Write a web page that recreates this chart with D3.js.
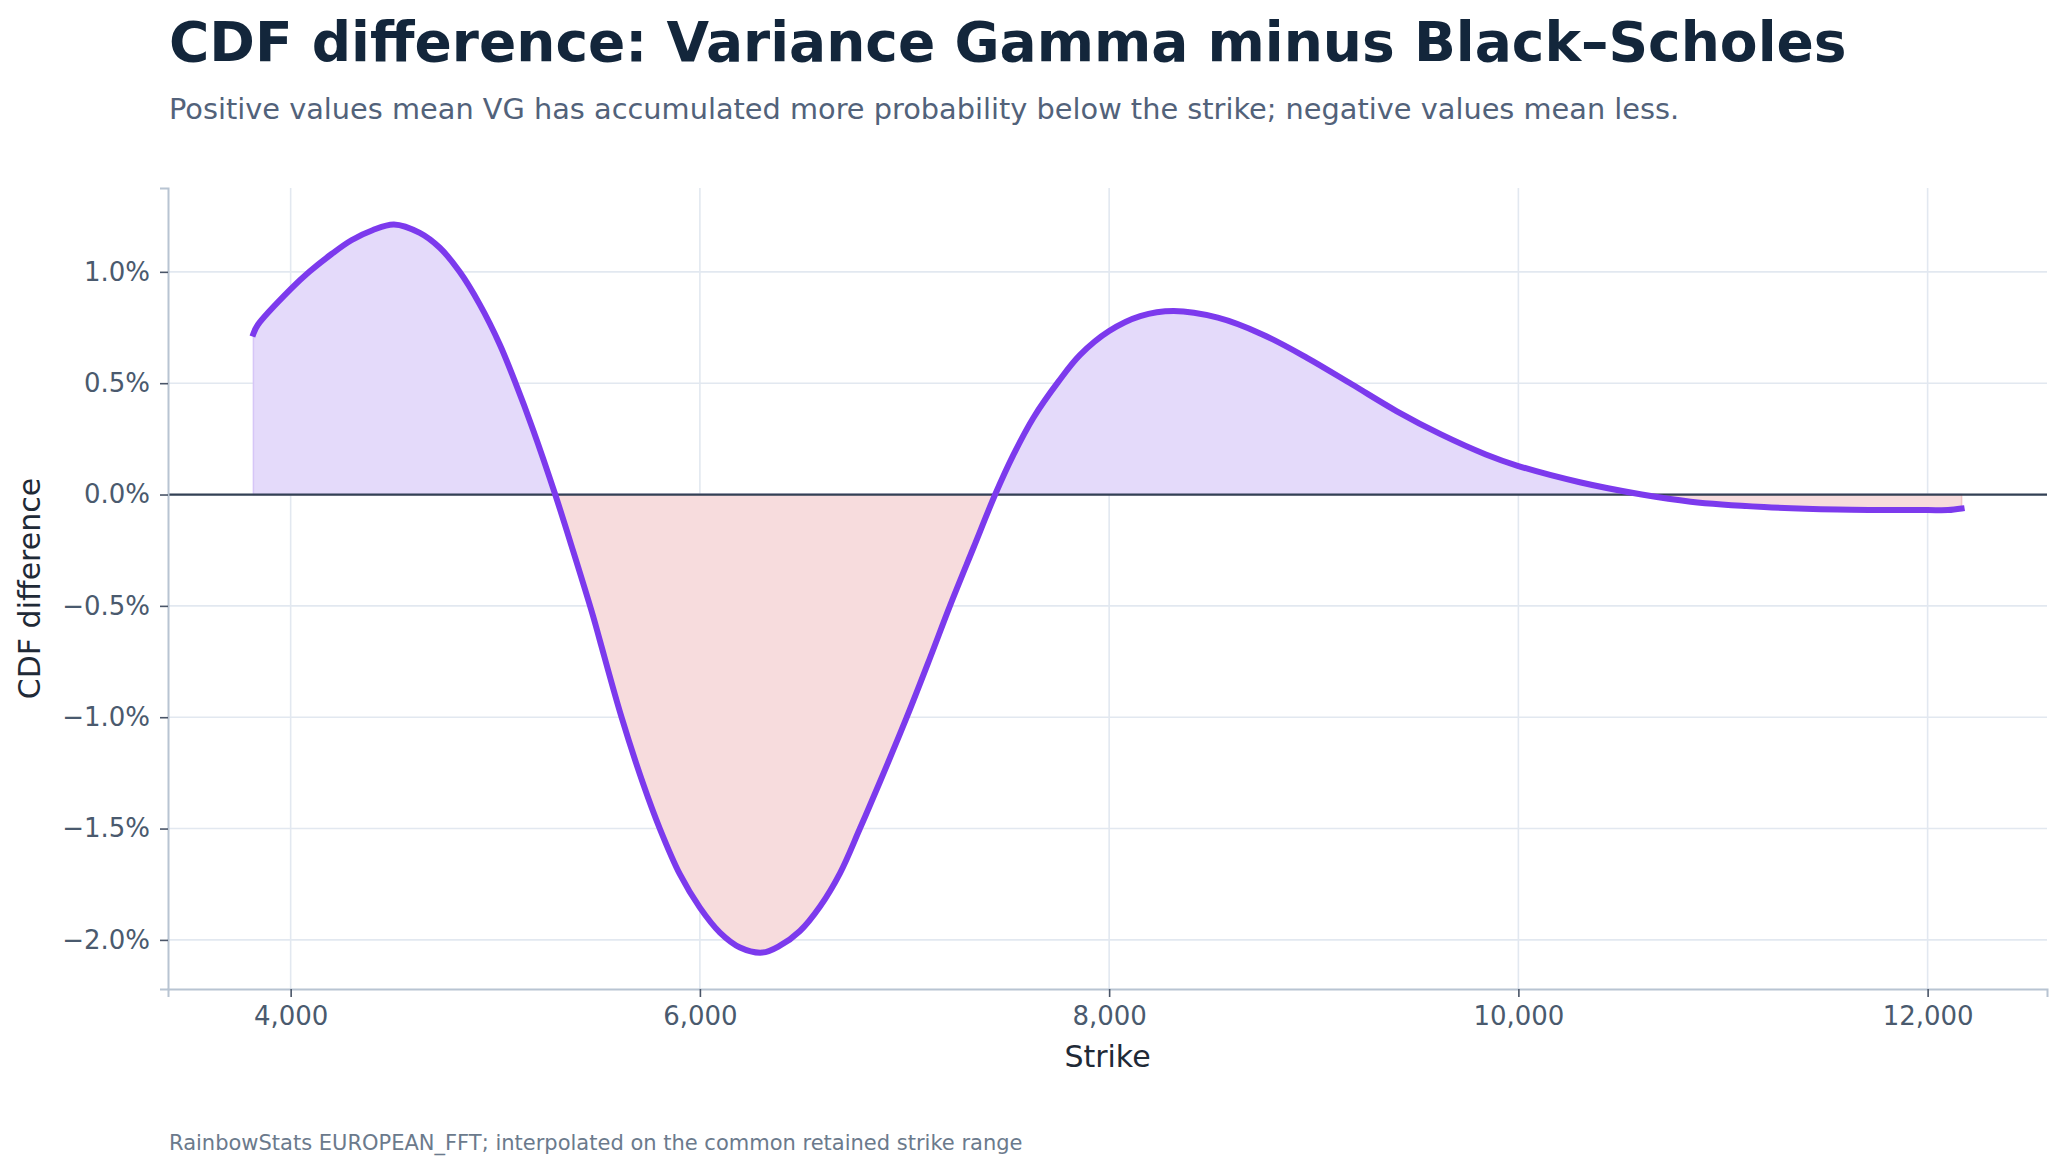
<!DOCTYPE html>
<html>
<head>
<meta charset="utf-8">
<script src="https://cdn.jsdelivr.net/npm/d3@7"></script>
<style>
  body { margin: 0; background: #fff; }
  text { font-family: "DejaVu Sans", sans-serif; }
</style>
</head>
<body>
<svg id="chart" width="2064" height="1173"></svg>
<script>
// strike grid and VG - BS cdf difference, in percent
var strikes = [3818, 3839, 4000, 4091, 4200, 4297, 4400, 4505, 4631, 4729, 4826, 4924, 5022,
  5095, 5185, 5293, 5380, 5478, 5511, 5617, 5723, 5804, 5902, 6000, 6098, 6196, 6305,
  6391, 6489, 6587, 6685, 6782, 6880, 7011, 7125, 7222, 7337, 7443, 7532, 7630, 7753, 7858,
  8000, 8152, 8315, 8531, 8749, 8967, 9186, 9404, 9622, 9841, 10000, 10300, 10603,
  10842, 11200, 11558, 12000, 12100, 12166];
var cdfDiff = [0.722, 0.761, 0.922, 1.0, 1.08, 1.142, 1.187, 1.213, 1.175, 1.108, 1.0, 0.854, 0.674,
  0.51, 0.29, 0.0, -0.252, -0.546, -0.655, -1.0, -1.30, -1.5, -1.705, -1.855, -1.967, -2.034, -2.057,
  -2.026, -1.96, -1.85, -1.70, -1.5, -1.29, -1.0, -0.733, -0.5, -0.239, 0.0, 0.178, 0.345, 0.508, 0.627,
  0.734, 0.801, 0.824, 0.794, 0.719, 0.614, 0.495, 0.375, 0.270, 0.180, 0.128, 0.055, 0.0,
  -0.032, -0.056, -0.067, -0.070, -0.070, -0.063];
var xTicks = [4000, 6000, 8000, 10000, 12000];
var yTicks = [-2.0, -1.5, -1.0, -0.5, 0.0, 0.5, 1.0];

var W = 2064, H = 1173,
  m = {left: 168, right: 17, top: 188, bottom: 184};
var svg = d3.select('#chart');
svg.append('rect').attr('width', W).attr('height', H).attr('fill', '#fff');

var data = strikes.map(function(s, i) { return {k: s, v: cdfDiff[i]} });

function pad(ext) {
  var r = ext[1] - ext[0];
  return [ext[0] - 0.05 * r, ext[1] + 0.05 * r];
}
var x = d3.scaleLinear().domain(pad(d3.extent(strikes))).range([m.left, W - m.right]);
var y = d3.scaleLinear().domain(pad(d3.extent(cdfDiff))).range([H - m.bottom, m.top]);

// titles
svg.append('text').attr('x', 169).attr('y', 61)
  .style('font-size', '55px').style('font-weight', 'bold').attr('fill', '#13263b')
  .text('CDF difference: Variance Gamma minus Black\u2013Scholes');
svg.append('text').attr('x', 169).attr('y', 119)
  .style('font-size', '28.8px').attr('fill', '#52627a')
  .text('Positive values mean VG has accumulated more probability below the strike; negative values mean less.');

// grid
var grid = svg.append('g');
grid.selectAll('.gx').data(xTicks).enter().append('line')
  .attr('x1', x).attr('x2', x).attr('y1', m.top).attr('y2', H - m.bottom)
  .attr('stroke', '#e2e8f0').attr('stroke-width', 1.6);
grid.selectAll('.gy').data(yTicks).enter().append('line')
  .attr('x1', m.left).attr('x2', W - m.right).attr('y1', y).attr('y2', y)
  .attr('stroke', '#e2e8f0').attr('stroke-width', 1.6);

// fills, split by sign with clip paths
var defs = svg.append('defs');
defs.append('clipPath').attr('id', 'above').append('rect')
  .attr('x', 0).attr('y', 0).attr('width', W).attr('height', y(0));
defs.append('clipPath').attr('id', 'below').append('rect')
  .attr('x', 0).attr('y', y(0)).attr('width', W).attr('height', H);

var curve = d3.curveCatmullRom.alpha(0.5);
var area = d3.area().curve(curve)
  .x(function(d) { return x(d.k) })
  .y0(y(0))
  .y1(function(d) { return y(d.v) });
svg.append('path').datum(data).attr('d', area)
  .attr('clip-path', 'url(#above)')
  .attr('fill', '#e4dafa').attr('stroke', '#d6c6f7').attr('stroke-width', 1.5);
svg.append('path').datum(data).attr('d', area)
  .attr('clip-path', 'url(#below)')
  .attr('fill', '#f7dcdd').attr('stroke', '#f0c4c6').attr('stroke-width', 1.5);

// zero line
svg.append('line').attr('x1', m.left).attr('x2', W - m.right)
  .attr('y1', y(0)).attr('y2', y(0))
  .attr('stroke', '#334155').attr('stroke-width', 2.2);

// the curve
var line = d3.line().curve(curve)
  .x(function(d) { return x(d.k) })
  .y(function(d) { return y(d.v) });
svg.append('path').datum(data).attr('d', line)
  .attr('fill', 'none').attr('stroke', '#7c3aed').attr('stroke-width', 6)
  .attr('stroke-linejoin', 'round').attr('stroke-linecap', 'square');

// axes
var fmtY = function(d) { return d3.format('.1f')(d) + '%' };
var yAxis = svg.append('g').attr('transform', 'translate(' + m.left + ',0)')
  .call(d3.axisLeft(y).tickValues(yTicks).tickFormat(fmtY).tickSize(8).tickPadding(10));
var xAxis = svg.append('g').attr('transform', 'translate(0,' + (H - m.bottom) + ')')
  .call(d3.axisBottom(x).tickValues(xTicks).tickFormat(d3.format(',')).tickSize(8).tickPadding(10));
[xAxis, yAxis].forEach(function(a) {
  a.select('.domain').attr('stroke', '#b8c4d2').attr('stroke-width', 2);
  a.selectAll('.tick line').attr('stroke', '#4a5568').attr('stroke-width', 1.6);
  a.selectAll('.tick text').attr('fill', '#4a5a6e')
    .style('font-size', '26px').style('font-family', '"DejaVu Sans", sans-serif');
});

// axis titles
svg.append('text').attr('x', (m.left + W - m.right) / 2).attr('y', 1067)
  .attr('text-anchor', 'middle').style('font-size', '30px').attr('fill', '#1f2a37')
  .text('Strike');
svg.append('text')
  .attr('transform', 'translate(40,' + (m.top + H - m.bottom) / 2 + ')rotate(-90)')
  .attr('text-anchor', 'middle').style('font-size', '30px').attr('fill', '#1f2a37')
  .text('CDF difference');

// caption
svg.append('text').attr('x', 169).attr('y', 1150)
  .style('font-size', '21px').attr('fill', '#6b7a8c')
  .text('RainbowStats EUROPEAN_FFT; interpolated on the common retained strike range');
</script>
</body>
</html>
